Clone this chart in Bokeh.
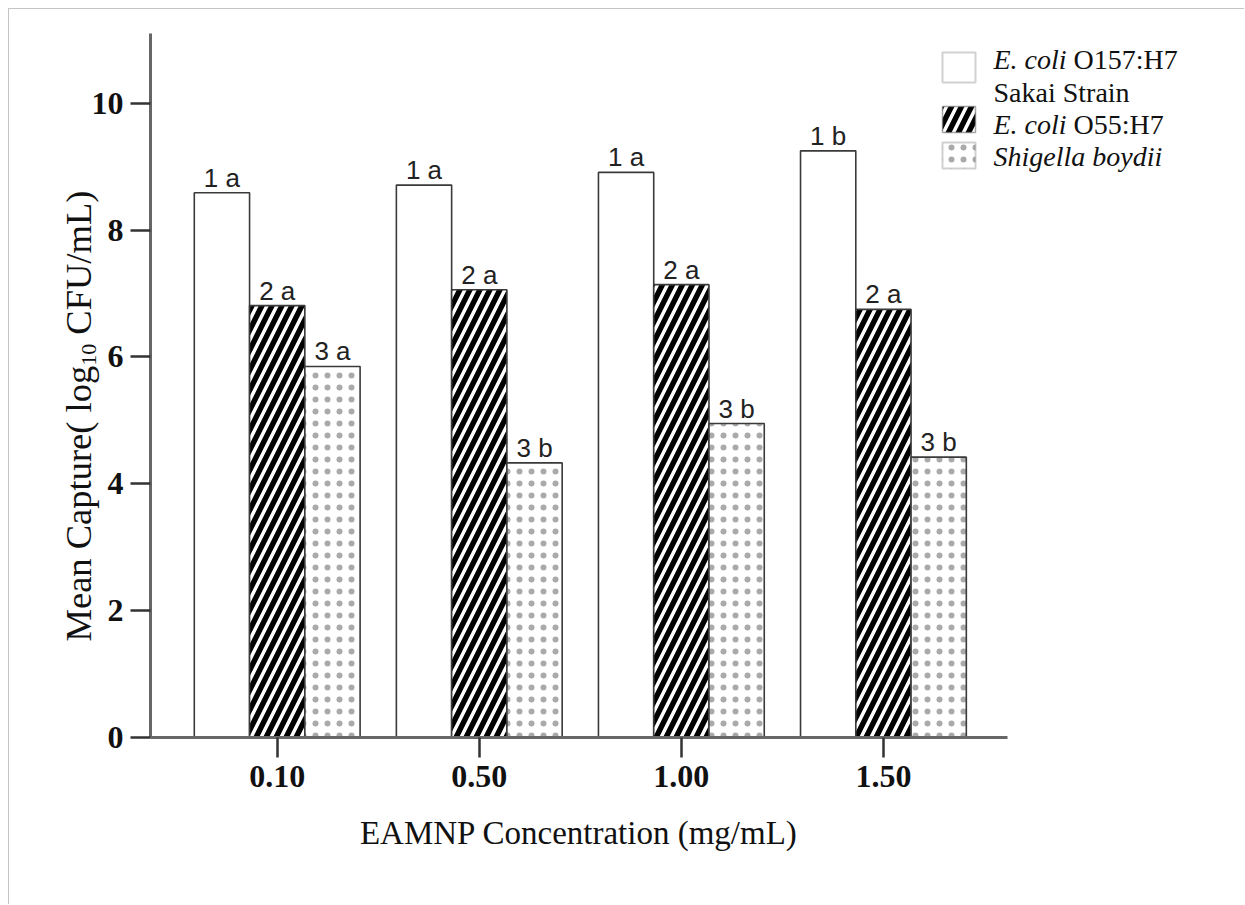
from math import pi

from bokeh.core.properties import value
from bokeh.embed import file_html
from bokeh.models import BoxAnnotation, ColumnDataSource, FixedTicker, Label, Range1d
from bokeh.plotting import figure
from bokeh.resources import INLINE
from bokeh.transform import dodge

# ---- data -----------------------------------------------------------------
concentrations = ["0.10", "0.50", "1.00", "1.50"]          # EAMNP, mg/mL
sakai = [8.59, 8.71, 8.91, 9.25]                             # E. coli O157:H7 Sakai
o55 = [6.81, 7.06, 7.14, 6.75]                               # E. coli O55:H7
shigella = [5.85, 4.33, 4.95, 4.42]                          # Shigella boydii
sakai_groups = ["1 a", "1 a", "1 a", "1 b"]
o55_groups = ["2 a", "2 a", "2 a", "2 a"]
shigella_groups = ["3 a", "3 b", "3 b", "3 b"]
y_ticks = [0, 2, 4, 6, 8, 10]

positions = list(range(len(concentrations)))                 # group centres

# ---- page geometry (pixels on the page) -----------------------------------
PAGE_OFF = 9                       # 8px margin + 1px border around the canvas
W, H = 1236, 896                   # canvas size; the frame fills the canvas
AX_L, AX_R = 150, 1007             # x-axis line extent on the page
AX_T, AX_B = 33, 737               # y-axis line extent on the page
AX_X0, AX_X1 = -0.627, len(concentrations) - 1 + 0.614
AX_Y0, AX_Y1 = 0.0, 11.1
BAR_W = 0.2735

KX = (AX_R - AX_L) / (AX_X1 - AX_X0)      # px per x unit
KY = (AX_B - AX_T) / (AX_Y1 - AX_Y0)      # px per y unit
X_START = AX_X0 - (AX_L - PAGE_OFF) / KX
X_END = AX_X1 + (PAGE_OFF + W - AX_R) / KX
Y_START = AX_Y0 - (PAGE_OFF + H - AX_B) / KY
Y_END = AX_Y1 + (AX_T - PAGE_OFF) / KY

SERIF = "Liberation Serif"
SANS = "Liberation Sans"


def dx(px):
    """page x pixel -> data x"""
    return AX_X0 + (px - AX_L) / KX


def dy(py):
    """page y pixel -> data y"""
    return AX_Y0 + (AX_B - py) / KY


p = figure(
    width=W, height=H,
    x_range=Range1d(X_START, X_END), y_range=Range1d(Y_START, Y_END),
    output_backend="svg", toolbar_location=None, min_border=0,
    background_fill_color="white", border_fill_color="white",
    margin=(8, 0, 0, 8),
    styles={"border-top": "1px solid #c4c4c4", "border-left": "1px solid #c4c4c4"},
)
p.outline_line_color = None
p.grid.visible = False

STRIPE = dict(fill_color="black", hatch_pattern="/", hatch_color="white",
              hatch_scale=20, hatch_weight=3.5)
DOTS = dict(fill_color="white", hatch_pattern=".", hatch_color="#aaaaaa",
            hatch_scale=12, hatch_weight=0.9)
PLAIN = dict(fill_color="white")

# ---- bars -----------------------------------------------------------------
series = [
    dict(vals=sakai, grp=sakai_groups, off=-BAR_W, style=PLAIN),
    dict(vals=o55, grp=o55_groups, off=0.0, style=STRIPE),
    dict(vals=shigella, grp=shigella_groups, off=BAR_W, style=DOTS),
]

for s in series:
    src = ColumnDataSource(dict(pos=positions, val=s["vals"], grp=s["grp"]))
    xs = dodge("pos", s["off"])
    p.vbar(x=xs, top="val", bottom=0, width=BAR_W, source=src,
           line_color="#3a3a3a", line_width=1.6, **s["style"])
    p.text(x=xs, y="val", text="grp", source=src, text_align="center",
           text_baseline="middle", y_offset=-15,
           text_font=value(SANS), text_font_size="26px", text_color="#222222")

# ---- axes -----------------------------------------------------------------
xa, ya = p.xaxis[0], p.yaxis[0]
xa.fixed_location = AX_Y0
xa.bounds = (AX_X0, AX_X1)
xa.ticker = FixedTicker(ticks=positions)
xa.major_label_overrides = {i: c for i, c in zip(positions, concentrations)}
ya.fixed_location = AX_X0
ya.bounds = (AX_Y0, AX_Y1)
ya.ticker = FixedTicker(ticks=y_ticks)

for ax in (xa, ya):
    ax.axis_line_color = "#666666"
    ax.axis_line_width = 3
    ax.major_tick_line_color = "#333333"
    ax.major_tick_line_width = 2.5
    ax.major_tick_in = 0
    ax.major_tick_out = 20
    ax.minor_tick_line_color = None
    ax.major_label_text_font = SERIF
    ax.major_label_text_font_style = "bold"
    ax.major_label_text_font_size = "32px"
    ax.major_label_text_color = "#111111"

ya.major_label_standoff = 7
xa.major_label_standoff = 8

xa.axis_label = "EAMNP Concentration (mg/mL)"
xa.axis_label_text_font = SERIF
xa.axis_label_text_font_style = "normal"
xa.axis_label_text_font_size = "33px"
xa.axis_label_text_color = "#111111"
xa.axis_label_standoff = 25

# y-axis title with a subscripted "10", written upward in three pieces
YT_SIZE, YT_SUB = 36.5, 22
yt_mid_x, yt_sub_mid_x, yt_start_y = 78, 88, 641
em_main, em_sub, em_space = 7.554, 1.0, 0.25     # advance widths (Times metrics)
y_sub = yt_start_y - em_main * YT_SIZE
y_rest = y_sub - em_sub * YT_SUB - em_space * YT_SIZE
yt_parts = [
    ("Mean Capture( log", YT_SIZE, yt_mid_x, yt_start_y),
    ("10", YT_SUB, yt_sub_mid_x, y_sub),
    ("CFU/mL)", YT_SIZE, yt_mid_x, y_rest),
]
for txt, size, px, py in yt_parts:
    p.add_layout(Label(x=dx(px), y=dy(py), text=txt, angle=pi / 2,
                       text_align="left", text_baseline="middle",
                       text_font=SERIF, text_font_size=f"{size}px",
                       text_color="#111111"))

# ---- legend ---------------------------------------------------------------
LG_BOX_L, LG_BOX_R = 942, 975
LG_TEXT_X = 993
LG_SIZE = 28
legend_boxes = [((52, 82), PLAIN), ((106, 132), STRIPE), ((142, 168), DOTS)]
for (top, bot), st in legend_boxes:
    p.add_layout(BoxAnnotation(left=dx(LG_BOX_L), right=dx(LG_BOX_R),
                               top=dy(top), bottom=dy(bot),
                               line_color="#666666", line_width=2,
                               fill_alpha=1.0, **st))

strain_em = 2.611 + 0.25             # "E. coli " in em
legend_lines = [
    [("E. coli", "italic", 0), ("O157:H7", "normal", strain_em)],
    [("Sakai Strain", "normal", 0)],
    [("E. coli", "italic", 0), ("O55:H7", "normal", strain_em)],
    [("Shigella boydii", "italic", 0)],
]
legend_mids = [59, 91.5, 123.5, 156]
for parts, mid in zip(legend_lines, legend_mids):
    for txt, style, em_off in parts:
        p.add_layout(Label(x=dx(LG_TEXT_X + em_off * LG_SIZE), y=dy(mid), text=txt,
                           text_align="left", text_baseline="middle",
                           text_font=SERIF, text_font_style=style,
                           text_font_size=f"{LG_SIZE}px", text_color="#111111"))

open("out.html", "w").write(file_html(p, INLINE))
